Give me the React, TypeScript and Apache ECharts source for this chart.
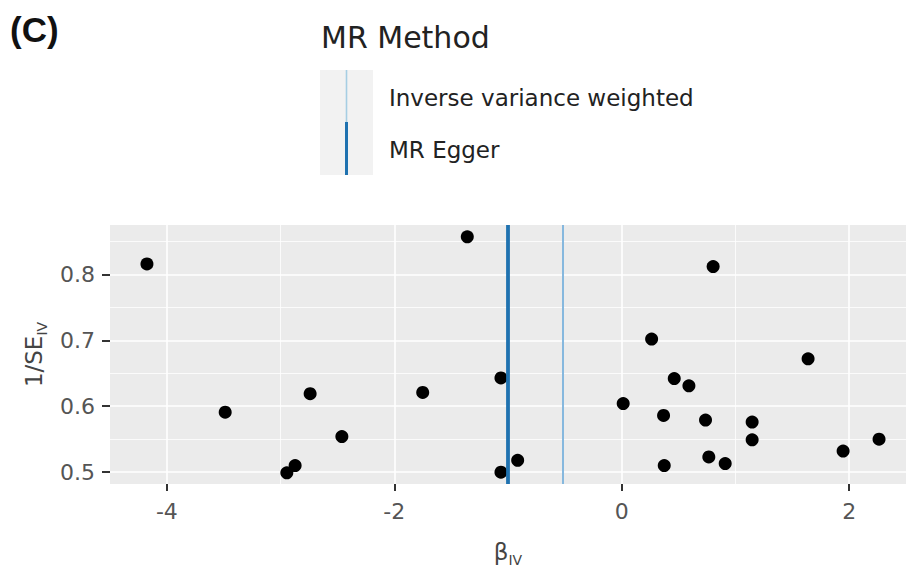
import React, { useEffect, useRef } from "react";
import * as echarts from "echarts";

// Data
const betaIV = [-4.175, -3.487, -2.945, -2.872, -2.74, -2.461, -1.75, -1.358, -1.062, -1.062, -0.915, 0.804, 0.263, 1.639, 0.462, 0.591, 0.013, 0.368, 0.737, 1.147, 1.147, 2.263, 1.947, 0.766, 0.91, 0.374];
const invSE = [0.816, 0.591, 0.499, 0.51, 0.619, 0.554, 0.621, 0.857, 0.643, 0.5, 0.518, 0.812, 0.702, 0.672, 0.642, 0.631, 0.604, 0.586, 0.579, 0.576, 0.549, 0.55, 0.532, 0.523, 0.513, 0.51];

const methods = ["Inverse variance weighted", "MR Egger"];
const methodBeta = [-0.52, -1.0];

const xTicks = [-4, -2, 0, 2];
const yTicks = [0.5, 0.6, 0.7, 0.8];
const xMinor = [-3, -1, 1];
const yMinor = [0.55, 0.65, 0.75, 0.85];
const xRange = [-4.5, 2.5];
const yRange = [0.482, 0.875];

const FONT = "DejaVu Sans";
const LABEL_COLOR = "#555555";
const TITLE_COLOR = "#444444";

export default function App() {
  const ref = useRef<HTMLDivElement>(null);

  useEffect(() => {
    if (!ref.current) return;
    const chart = echarts.init(ref.current, null, { renderer: "svg" });

    const points = betaIV.map((b, i) => [b, invSE[i]]);

    const minorLines = [
      ...xMinor.map((v) => ({ xAxis: v })),
      ...yMinor.map((v) => ({ yAxis: v })),
    ];

    const methodColors = ["#86b8de", "#1f72b0"];
    const methodWidths = [2, 3.8];

    const nameRich = {
      m: { fontSize: 23, lineHeight: 30, fontFamily: FONT, color: TITLE_COLOR },
      s: { fontSize: 14, lineHeight: 14, verticalAlign: "bottom", fontFamily: FONT, color: TITLE_COLOR },
    };

    const option: any = {
      animation: false,
      backgroundColor: "#ffffff",
      grid: {
        left: 110,
        right: 0,
        top: 225,
        bottom: 72,
        show: true,
        backgroundColor: "#ebebeb",
        borderWidth: 0,
        containLabel: false,
      },
      xAxis: {
        type: "value",
        min: xRange[0],
        max: xRange[1],
        splitNumber: 3,
        minInterval: 2,
        maxInterval: 2,
        name: "{m|β}{s|IV}",
        nameLocation: "middle",
        nameGap: 53,
        nameTextStyle: { fontFamily: FONT, color: TITLE_COLOR, rich: nameRich },
        axisLine: { show: false, onZero: false },
        axisTick: { show: true, length: 7, lineStyle: { color: "#333333", width: 2 }, customValues: xTicks },
        axisLabel: {
          customValues: xTicks,
          margin: 16,
          fontFamily: FONT,
          fontSize: 22,
          color: LABEL_COLOR,
          formatter: (v: number) => String(v),
        },
        splitLine: { show: true, lineStyle: { color: "#ffffff", width: 1.6 } },
      },
      yAxis: {
        type: "value",
        min: yRange[0],
        max: yRange[1],
        splitNumber: 4,
        minInterval: 0.1,
        maxInterval: 0.1,
        name: "{m|1/SE}{s|IV}",
        nameLocation: "middle",
        nameRotate: 90,
        nameGap: 56,
        nameTextStyle: { fontFamily: FONT, color: TITLE_COLOR, rich: nameRich },
        axisLine: { show: false, onZero: false },
        axisTick: { show: true, length: 8, lineStyle: { color: "#333333", width: 2 }, customValues: yTicks },
        axisLabel: {
          customValues: yTicks,
          margin: 15,
          fontFamily: FONT,
          fontSize: 22,
          color: LABEL_COLOR,
          formatter: (v: number) => v.toFixed(1),
        },
        splitLine: { show: true, lineStyle: { color: "#ffffff", width: 1.6 } },
      },
      series: [
        {
          type: "scatter",
          name: "points",
          data: points,
          symbol: "circle",
          symbolSize: 13,
          itemStyle: { color: "#000000", opacity: 1 },
          z: 2,
          markLine: {
            silent: true,
            z: 1,
            symbol: ["none", "none"],
            label: { show: false },
            lineStyle: { color: "#ffffff", width: 0.8, type: "solid" },
            data: minorLines,
          },
        },
        {
          type: "line",
          name: "methods",
          data: [],
          markLine: {
            silent: true,
            z: 5,
            symbol: ["none", "none"],
            label: { show: false },
            data: methods.map((m, i) => ({
              name: m,
              xAxis: methodBeta[i],
              lineStyle: { color: methodColors[i], width: methodWidths[i], type: "solid" },
            })),
          },
        },
      ],
      graphic: [
        {
          type: "text",
          left: 10,
          top: 12,
          style: {
            text: "(C)",
            fontFamily: "Liberation Sans",
            fontWeight: "bold",
            fontSize: 35,
            fill: "#111111",
          },
        },
        {
          type: "text",
          x: 321,
          y: 37.5,
          style: {
            text: "MR Method",
            fontFamily: FONT,
            fontSize: 30,
            fill: "#222222",
            verticalAlign: "middle",
          },
        },
        {
          type: "rect",
          shape: { x: 320, y: 70, width: 53, height: 105 },
          style: { fill: "#f2f2f2" },
        },
        {
          type: "line",
          shape: { x1: 346.5, y1: 70, x2: 346.5, y2: 122 },
          style: { stroke: "#a6cee3", lineWidth: 1.6 },
        },
        {
          type: "line",
          shape: { x1: 346.5, y1: 122, x2: 346.5, y2: 175 },
          style: { stroke: "#1f72b0", lineWidth: 3 },
        },
        {
          type: "text",
          x: 389,
          y: 97.5,
          style: {
            text: methods[0],
            fontFamily: FONT,
            fontSize: 23,
            fill: "#222222",
            verticalAlign: "middle",
          },
        },
        {
          type: "text",
          x: 389,
          y: 150,
          style: {
            text: methods[1],
            fontFamily: FONT,
            fontSize: 23,
            fill: "#222222",
            verticalAlign: "middle",
          },
        },
      ],
    };

    chart.setOption(option);
    return () => chart.dispose();
  }, []);

  return (
    <div
      ref={ref}
      style={{ position: "absolute", left: 0, top: 0, width: 906, height: 568, background: "#fff" }}
    />
  );
}
